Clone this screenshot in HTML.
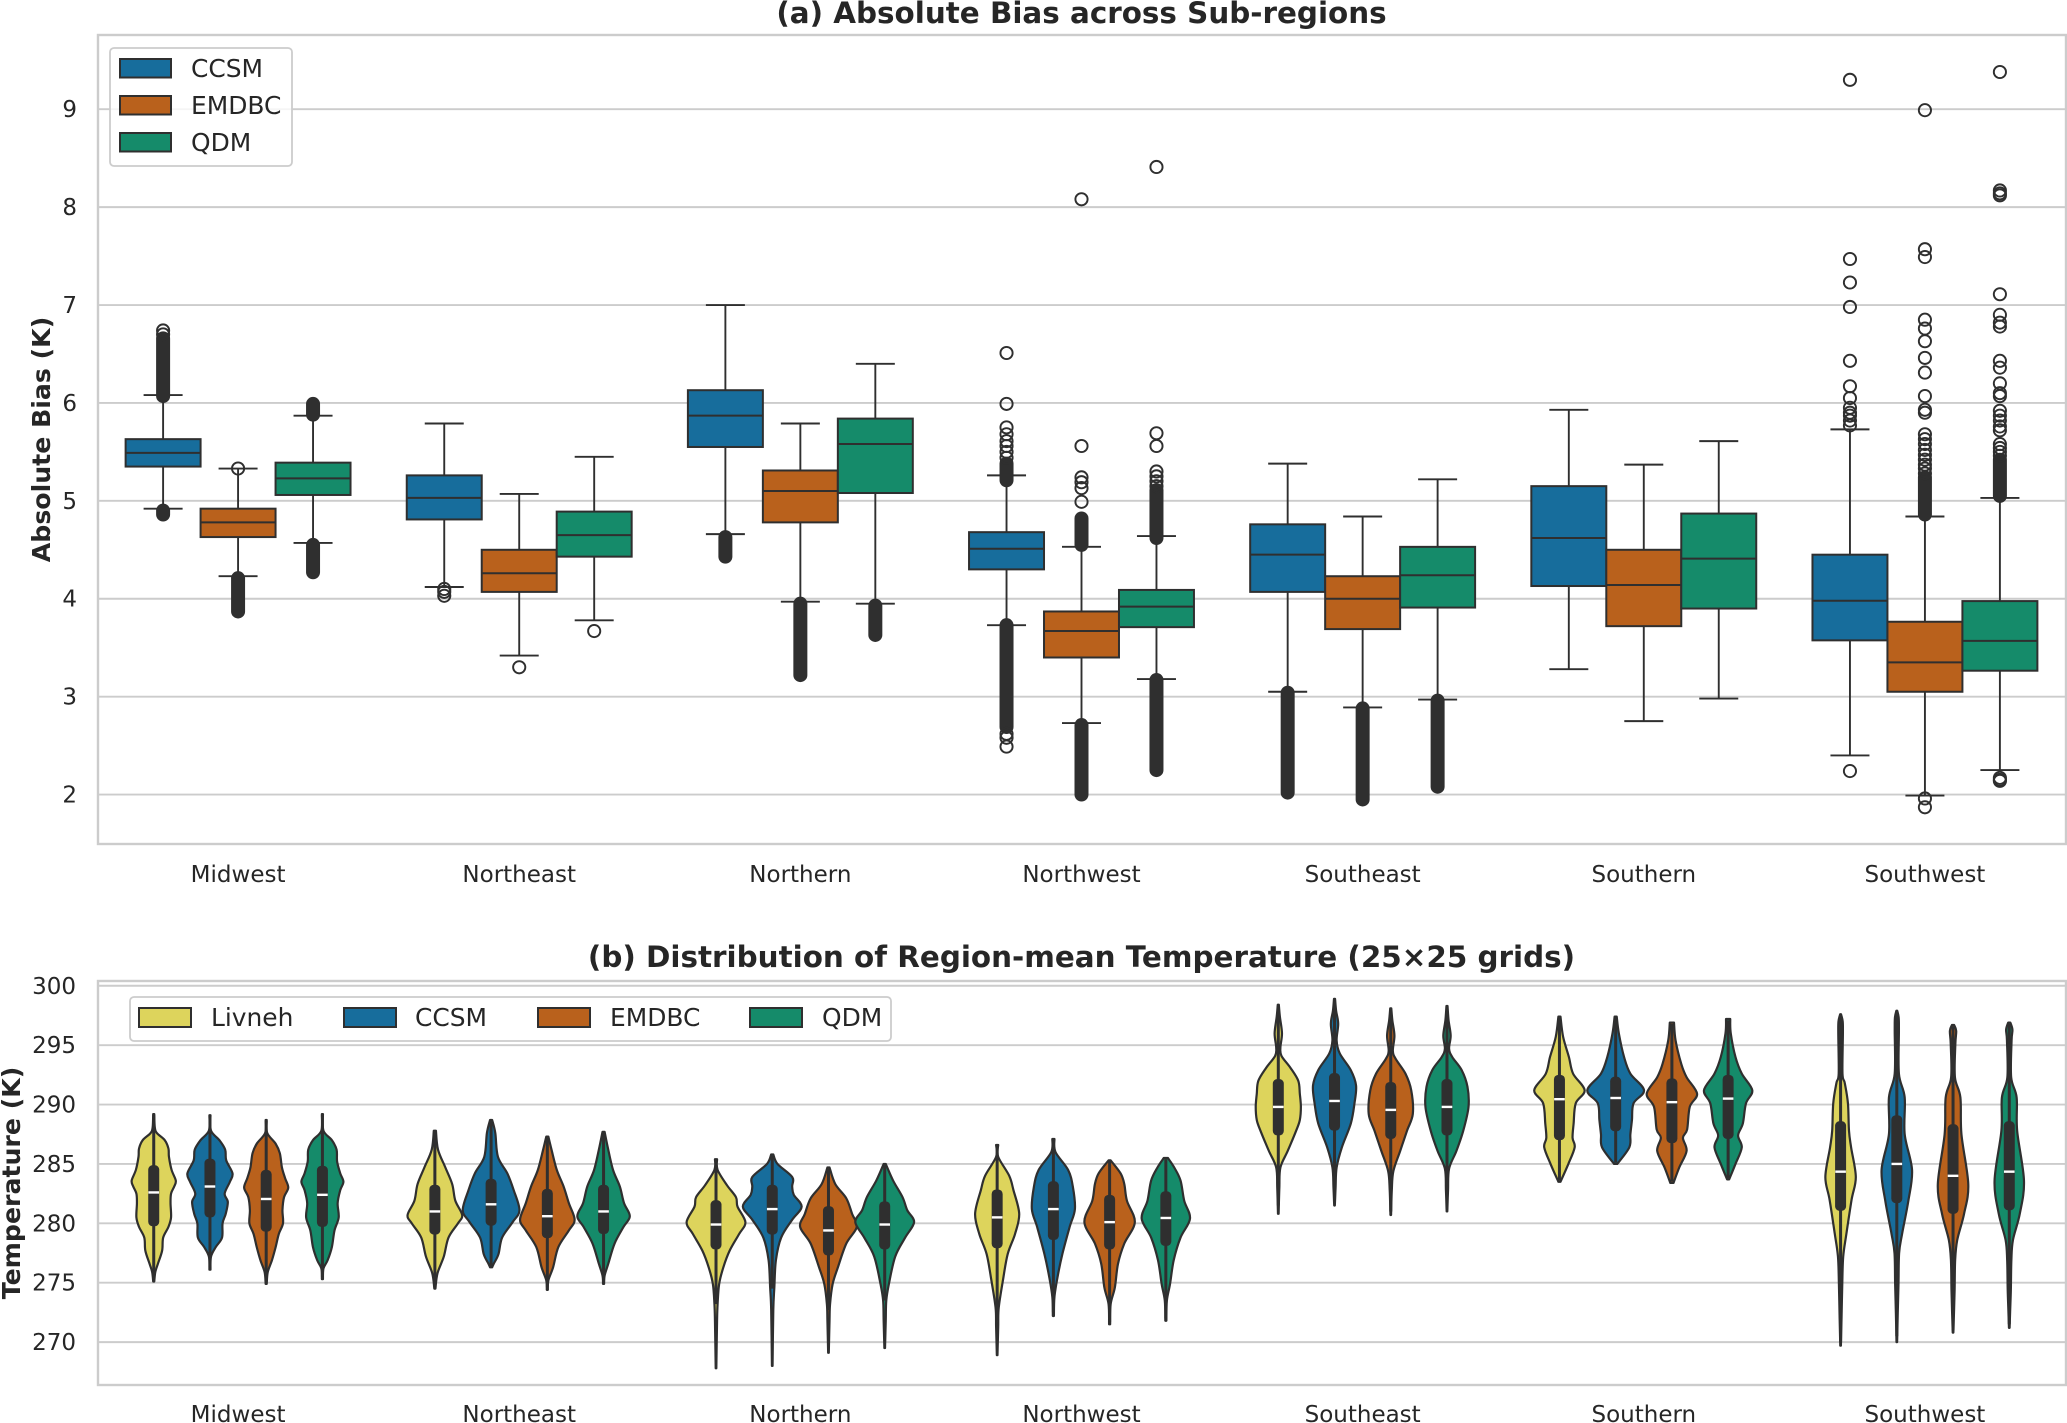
<!DOCTYPE html>
<html lang="en">
<head>
<meta charset="utf-8">
<title>Absolute Bias and Region-mean Temperature</title>
<style>
html,body{margin:0;padding:0;background:#fff;}
svg{display:block;font-family:"DejaVu Sans","Liberation Sans",sans-serif;}
</style>
</head>
<body>
<svg id="figure" xmlns="http://www.w3.org/2000/svg" width="2067" height="1423" viewBox="0 0 2067 1423">
  <rect width="2067" height="1423" fill="#fff"/>
  <g id="panel-a">
    <g id="a-grid"></g>
    <g id="a-marks"></g>
    <rect x="98" y="35" width="1968" height="809" fill="none" stroke="#cccccc" stroke-width="2.4"/>
    <g id="a-ticks"></g>
    <text x="1081.5" y="23" text-anchor="middle" font-size="29.4" font-weight="700" fill="#262626">(a) Absolute Bias across Sub-regions</text>
    <text transform="translate(50,439.5) rotate(-90)" text-anchor="middle" font-size="25.2" font-weight="700" fill="#262626">Absolute Bias (K)</text>
    <g>
      <rect x="110" y="48" width="182" height="118" rx="4" fill="#fff" fill-opacity="0.8" stroke="#cccccc" stroke-width="1.8"/>
      <g><rect x="120" y="59" width="51" height="18.5" fill="#176d9c" stroke="#2f2f2f" stroke-width="2"/><text x="191" y="77" font-size="24.9" fill="#262626">CCSM</text></g>
      <g><rect x="120" y="96" width="51" height="18.5" fill="#b9611c" stroke="#2f2f2f" stroke-width="2"/><text x="191" y="114" font-size="24.9" fill="#262626">EMDBC</text></g>
      <g><rect x="120" y="133" width="51" height="18.5" fill="#158b6a" stroke="#2f2f2f" stroke-width="2"/><text x="191" y="151" font-size="24.9" fill="#262626">QDM</text></g>
    </g>
  </g>
  <g id="panel-b">
    <g id="b-grid"></g>
    <g id="b-marks"></g>
    <rect x="98" y="981" width="1968" height="404" fill="none" stroke="#cccccc" stroke-width="2.4"/>
    <g id="b-ticks"></g>
    <text x="1081.5" y="967" text-anchor="middle" font-size="29.4" font-weight="700" fill="#262626">(b) Distribution of Region-mean Temperature (25×25 grids)</text>
    <text transform="translate(20,1183) rotate(-90)" text-anchor="middle" font-size="25.2" font-weight="700" fill="#262626">Temperature (K)</text>
    <g>
      <rect x="130" y="997" width="761" height="44" rx="4" fill="#fff" fill-opacity="0.8" stroke="#cccccc" stroke-width="1.8"/>
      <g><rect x="139" y="1008" width="52" height="19" fill="#ddd45c" stroke="#2f2f2f" stroke-width="2"/><text x="211" y="1026" font-size="24.9" fill="#262626">Livneh</text></g>
      <g><rect x="344" y="1008" width="52" height="19" fill="#176d9c" stroke="#2f2f2f" stroke-width="2"/><text x="415" y="1026" font-size="24.9" fill="#262626">CCSM</text></g>
      <g><rect x="538" y="1008" width="52" height="19" fill="#b9611c" stroke="#2f2f2f" stroke-width="2"/><text x="610" y="1026" font-size="24.9" fill="#262626">EMDBC</text></g>
      <g><rect x="750" y="1008" width="52" height="19" fill="#158b6a" stroke="#2f2f2f" stroke-width="2"/><text x="822" y="1026" font-size="24.9" fill="#262626">QDM</text></g>
    </g>
  </g>
</svg>
<script>
const regions = ['Midwest','Northeast','Northern','Northwest','Southeast','Southern','Southwest'];
const biasTicks = [2,3,4,5,6,7,8,9];
const tempTicks = [270,275,280,285,290,295,300];

/* Panel (a): box statistics, K */
const ccsmWhiskerLow  = [4.92,4.12,4.66,3.73,3.05,3.28,2.40];
const ccsmQ1          = [5.35,4.81,5.55,4.30,4.07,4.13,3.575];
const ccsmMedian      = [5.49,5.03,5.87,4.51,4.45,4.62,3.98];
const ccsmQ3          = [5.63,5.26,6.13,4.68,4.76,5.15,4.45];
const ccsmWhiskerHigh = [6.08,5.79,7.00,5.26,5.38,5.93,5.73];
const emdbcWhiskerLow  = [4.23,3.42,3.97,2.73,2.89,2.75,1.99];
const emdbcQ1          = [4.63,4.07,4.78,3.40,3.69,3.72,3.05];
const emdbcMedian      = [4.78,4.26,5.10,3.67,4.00,4.14,3.35];
const emdbcQ3          = [4.92,4.50,5.31,3.87,4.23,4.50,3.765];
const emdbcWhiskerHigh = [5.33,5.07,5.79,4.53,4.84,5.37,4.84];
const qdmWhiskerLow  = [4.57,3.78,3.95,3.18,2.97,2.98,2.25];
const qdmQ1          = [5.06,4.43,5.08,3.71,3.91,3.90,3.265];
const qdmMedian      = [5.23,4.65,5.58,3.92,4.24,4.41,3.57];
const qdmQ3          = [5.39,4.89,5.84,4.09,4.53,4.87,3.976];
const qdmWhiskerHigh = [5.87,5.45,6.40,4.64,5.22,5.61,5.03];

/* Individually visible outliers */
const ccsmOutliers = [
  [6.74,6.70],
  [4.03,4.07,4.10],
  [],
  [6.51,5.99,5.75,5.68,5.61,5.56,5.50,5.44,2.62,2.58,2.49],
  [],
  [],
  [9.30,7.47,7.23,6.98,6.43,6.17,6.05,5.95,5.90,5.87,5.82,5.77,2.24]
];
const emdbcOutliers = [
  [5.33],
  [3.30],
  [],
  [8.08,5.56,5.24,5.19,5.13,4.99],
  [],
  [],
  [8.99,7.57,7.49,6.85,6.76,6.63,6.46,6.31,6.07,5.93,5.90,5.68,5.63,5.58,5.52,5.47,5.42,5.37,5.33,5.28,1.96,1.87]
];
const qdmOutliers = [
  [],
  [3.67],
  [],
  [8.41,5.69,5.56,5.30,5.25,5.20,5.15],
  [],
  [],
  [9.38,8.17,8.14,8.12,7.11,6.90,6.82,6.78,6.43,6.36,6.20,6.10,6.07,5.92,5.87,5.82,5.76,5.72,5.58,5.54,5.50,5.46,2.17,2.15,2.14]
];
/* Outlier runs too dense to separate: [low, high] */
const ccsmDenseRuns = [
  [[6.07,6.66],[4.86,4.90]],
  [],
  [[4.43,4.63]],
  [[5.21,5.38],[2.69,3.73]],
  [[2.02,3.04]],
  [],
  []
];
const emdbcDenseRuns = [
  [[3.87,4.21]],
  [],
  [[3.22,3.95]],
  [[4.55,4.82],[2.00,2.71]],
  [[1.95,2.88]],
  [],
  [[4.86,5.24]]
];
const qdmDenseRuns = [
  [[5.88,5.99],[4.27,4.55]],
  [],
  [[3.63,3.93]],
  [[4.62,5.11],[2.25,3.17]],
  [[2.08,2.96]],
  [],
  [[5.05,5.42]]
];

/* Panel (b): violin summaries, K */
const livnehVMedian = [282.6,281.0,279.9,280.5,289.8,290.45,284.35];
const livnehVQ1     = [279.75,279.05,277.8,277.9,287.4,287.0,281.05];
const livnehVQ3     = [284.9,283.25,281.95,282.85,292.15,292.5,288.6];
const livnehVLow    = [275.3,274.7,273.2,272.0,281.5,283.6,270.0];
const livnehVHigh   = [289.1,287.7,285.3,286.5,298.3,297.3,297.5];
const ccsmVMedian = [283.1,281.6,281.2,281.2,290.3,290.55,285.0];
const ccsmVQ1     = [280.5,279.8,279.05,278.6,287.8,287.75,281.7];
const ccsmVQ3     = [285.45,283.75,283.25,283.55,292.65,292.35,289.1];
const ccsmVLow    = [276.3,276.4,274.5,272.5,282.0,285.1,270.5];
const ccsmVHigh   = [289.0,288.6,285.7,287.0,298.8,297.3,297.8];
const emdbcVMedian = [282.05,280.6,279.4,280.1,289.55,290.2,284.0];
const emdbcVQ1     = [279.3,278.75,277.3,277.8,287.1,286.75,280.8];
const emdbcVQ3     = [284.5,282.9,281.45,282.4,291.9,292.2,288.35];
const emdbcVLow    = [275.1,274.6,272.7,271.7,281.0,283.5,271.0];
const emdbcVHigh   = [288.6,287.2,284.6,285.2,298.0,296.8,296.6];
const qdmVMedian = [282.4,281.0,279.9,280.45,289.8,290.5,284.35];
const qdmVQ1     = [279.7,279.1,277.8,278.1,287.4,287.1,281.1];
const qdmVQ3     = [284.85,283.25,281.85,282.7,292.15,292.5,288.6];
const qdmVLow    = [275.5,275.1,273.5,272.0,281.2,283.8,271.5];
const qdmVHigh   = [289.1,287.6,284.9,285.4,298.2,297.1,296.8];

/* Violin density profiles: [temperature K, relative density] from warm end to cold end */
const livnehProfiles = [
  [[289.2,.5],[288.1,1],[287.6,3],[287,10.5],[286.3,14],[285.6,14.5],[284.5,17],[283.6,21],[283.1,19.5],[282.5,16.5],[281.7,16],[280.5,16.5],[279.7,14],[278.8,9],[277.7,8],[276.6,4],[275.9,1.5],[275.1,.5]],
  [[287.8,1],[286.2,3],[284.7,10],[283.3,16.5],[281.9,19.5],[280.7,26],[280,22],[278.8,13],[277.2,8.5],[275.8,2.5],[274.5,.5]],
  [[285.4,1],[284.5,1.5],[283.2,10.5],[282.2,19],[281.4,20.5],[280.1,28],[279.1,22],[277.7,13],[276.3,7],[274.9,3],[273.2,1.5],[271.8,1],[267.8,.3]],
  [[286.6,1],[285.6,1],[284,11.5],[282.8,15.5],[280.8,21],[279.1,17],[277.4,10],[275.2,5.5],[272.9,1.5],[271.3,1],[268.9,.3]],
  [[298.4,.5],[297.4,1.5],[296,3.5],[294.8,2],[294.1,3],[293.1,11.5],[292,19],[290.9,20.5],[289.8,21.5],[288.7,20.5],[287.8,17],[286.1,9],[284.7,2],[283,1],[280.8,.3]],
  [[297.4,1],[295.7,3.5],[294,9],[292.6,13],[291.2,24],[290.1,15.5],[288.4,13.5],[287.2,12.5],[286.4,14.5],[285,8.5],[283.5,1]],
  [[297.6,.4],[297,2],[296,2.2],[292.6,1.8],[291.8,4],[290.1,7],[287.8,8],[286.4,10],[283.9,14.5],[282,10.5],[279.1,5.5],[277.2,2.5],[274.9,1.6],[272,.9],[269.7,.3]]
];
const ccsmProfiles = [
  [[289.1,.5],[287.8,1],[287,9],[286.2,14.5],[285.3,15.5],[284.2,21.5],[283.5,19],[282.5,14],[281.8,17],[280.8,15],[280,12],[278.8,11.5],[278,5.5],[277.2,1],[276.1,.5]],
  [[288.7,1],[287.6,4],[285.6,6.5],[284.2,15.5],[282.8,21.5],[281.1,27],[280.1,20.5],[278.8,10.5],[277.4,7],[276.6,2.5],[276.3,1]],
  [[285.8,1],[285,5],[283.9,19],[283.1,19],[282.4,20.5],[281.4,28],[280.3,19],[278.8,8.5],[276.9,3.5],[274.6,2],[272.7,1],[268,.3]],
  [[287.1,1],[286,2],[284.5,14],[283.1,18.5],[281.2,20.5],[279.7,15.5],[277.4,8.5],[275.5,4],[273.8,1],[272.2,.5]],
  [[298.9,.5],[297.9,1.5],[296.8,3.5],[295.4,2],[294.3,5],[292.9,15.5],[291.6,20.5],[290.1,19],[288.4,15.5],[286.4,7],[284.7,2],[283,1],[281.5,.3]],
  [[297.4,1],[296,3],[294,8],[292.6,14],[291.2,27],[290.1,17],[288.7,15.5],[287.5,14],[286.4,13],[285,1.5]],
  [[297.9,.4],[297.3,1.8],[296.2,2],[292.6,2],[290.6,7.5],[287.5,7.5],[284.5,14.5],[281.9,11],[279.1,5],[277.5,2.2],[274.9,1.6],[272.5,.9],[270,.3]]
];
const emdbcProfiles = [
  [[288.7,.5],[287.6,1],[286.7,9],[285.9,13],[284.7,15],[283.8,18],[283,21],[282.2,17],[281.1,15.5],[280,16],[279.1,12],[278,9],[276.9,5.5],[275.9,1.5],[274.9,.5]],
  [[287.3,1],[286.2,4],[284.5,9],[283.1,15.5],[281.7,20.5],[280.3,26],[279.4,20.5],[278,10.5],[276.3,5.5],[275.2,1],[274.4,.5]],
  [[284.7,1],[283.3,6.5],[282.1,17],[280.8,22.5],[279.7,27],[278.3,17],[276.3,9],[274.9,4],[273.2,1.5],[271.8,1],[269.1,.3]],
  [[285.3,1],[284.2,10.5],[283.3,14],[281.9,16.5],[280.1,24],[278.3,14],[276.6,8],[274.6,5],[273.2,1],[271.5,.5]],
  [[298.1,.5],[297.1,1.5],[295.8,3.5],[294.5,2],[293.8,5],[292.6,14],[291.2,19.5],[289.2,21],[287.8,15.5],[286.1,9],[284.4,2.5],[282.8,1],[280.7,.3]],
  [[296.9,2],[295.4,3.5],[293.4,9],[292.3,14],[290.9,24],[289.8,17],[287.9,14.5],[287.2,10.5],[286.1,14],[284.7,7],[283.4,1.5]],
  [[296.7,1],[296.2,3],[295.1,2.2],[292.3,1.8],[290.6,7],[287.5,8],[283.3,14.5],[280.8,10.5],[278.6,4],[276.9,2],[274.4,1.5],[272.5,.9],[270.8,.3]]
];
const qdmProfiles = [
  [[289.2,.5],[287.8,1],[287,9],[286.2,13.5],[285.2,14],[284.2,17],[283.5,20],[282.8,17],[281.7,14.5],[280.5,15.5],[279.4,11.5],[278,9],[276.9,5],[276.2,1],[275.3,.5]],
  [[287.7,1],[286.4,4],[284.5,9],[283.1,15.5],[281.7,19.5],[280.6,25],[279.7,19],[278.3,10.5],[276.6,4.5],[275.6,1],[274.9,.5]],
  [[285,1],[283.6,8],[282.2,17],[281.1,21.5],[280.1,28],[278.8,19.5],[277.2,10],[274.9,4],[273.5,1.5],[271.8,1],[269.5,.3]],
  [[285.5,2],[284.7,8],[283.6,14],[281.9,17.5],[280.4,23],[278.8,14],[276.9,7.5],[274.9,4],[273.5,1],[271.8,.5]],
  [[298.3,.5],[297.1,1.5],[295.8,3.5],[294.7,2],[294,5],[292.9,14],[291.5,19.5],[289.8,20.5],[287.8,15.5],[286.1,9],[284.6,2],[282.8,1],[281,.3]],
  [[297.2,2],[296,2.5],[294,7],[292.6,13],[291.2,23],[290.1,17],[288.4,14],[287.4,9.5],[286.4,13],[285,7],[283.7,1]],
  [[296.9,1],[296.3,3],[295.4,2.2],[292.3,1.8],[290.6,7],[287.8,7.5],[283.6,14],[280.8,10],[278.6,3.5],[276.9,2],[274.4,1.5],[272.8,.9],[271.2,.3]]
];

const SVG_NS = 'http://www.w3.org/2000/svg';
const INK = '#2f2f2f';
const COLOR_LIVNEH = '#ddd45c', COLOR_CCSM = '#176d9c', COLOR_EMDBC = '#b9611c', COLOR_QDM = '#158b6a';

function linear(d0, d1, r0, r1){ return v => r0 + (v - d0) * (r1 - r0) / (d1 - d0); }
const xScale = linear(-0.5, 6.5, 98, 2066);
const yBias = linear(1.495, 9.758, 844, 35);
const yTemp = linear(266.39, 300.4, 1385, 981);
const densityWidth = d => d * 1.05;
const BAND = xScale(1) - xScale(0);
const BOX_WIDTH = BAND * 0.8 / 3;
const VIOLIN_STEP = BAND * 0.8 / 4;

function make(parent, tag, attrs){
  const el = document.createElementNS(SVG_NS, tag);
  for (const k in attrs) el.setAttribute(k, attrs[k]);
  parent.appendChild(el);
  return el;
}
function slug(s){ return s.toLowerCase(); }

/* Axes */
function drawAxes(gridId, tickId, ticks, yScale, baselineY, x0, prefix){
  const grid = document.getElementById(gridId);
  const labels = document.getElementById(tickId);
  ticks.forEach(t => {
    const y = yScale(t);
    const line = make(grid, 'line', {x1:98, x2:2066, y1:y, y2:y, stroke:'#cccccc', 'stroke-width':1.9});
    
    
    const tx = make(labels, 'text', {x:x0, y:y + 8, 'text-anchor':'end', 'font-size':23, fill:'#262626'});
    tx.textContent = t;
    
    
  });
  regions.forEach((r, i) => {
    const tx = make(labels, 'text', {x:xScale(i) - 0.5, y:baselineY, 'text-anchor':'middle', 'font-size':23, fill:'#262626'});
    tx.textContent = r;
    
    
  });
}
drawAxes('a-grid', 'a-ticks', biasTicks, yBias, 882, 77, 'panel-a');
drawAxes('b-grid', 'b-ticks', tempTicks, yTemp, 1422, 76, 'panel-b');

/* Box plots */
const boxSeries = [
  {name:'ccsm', color:COLOR_CCSM, lo:ccsmWhiskerLow, q1:ccsmQ1, med:ccsmMedian, q3:ccsmQ3, hi:ccsmWhiskerHigh, out:ccsmOutliers, dense:ccsmDenseRuns},
  {name:'emdbc', color:COLOR_EMDBC, lo:emdbcWhiskerLow, q1:emdbcQ1, med:emdbcMedian, q3:emdbcQ3, hi:emdbcWhiskerHigh, out:emdbcOutliers, dense:emdbcDenseRuns},
  {name:'qdm', color:COLOR_QDM, lo:qdmWhiskerLow, q1:qdmQ1, med:qdmMedian, q3:qdmQ3, hi:qdmWhiskerHigh, out:qdmOutliers, dense:qdmDenseRuns}
];
const aMarks = document.getElementById('a-marks');
boxSeries.forEach((s, j) => {
  regions.forEach((r, i) => {
    const cx = xScale(i) + (j - 1) * BOX_WIDTH - 0.5;
    const g = make(aMarks, 'g', {});
    
    
    const capHalf = 19.5;
    const stroke = {stroke:INK, 'stroke-width':1.9};
    make(g, 'line', Object.assign({x1:cx, x2:cx, y1:yBias(s.hi[i]), y2:yBias(s.q3[i])}, stroke));
    make(g, 'line', Object.assign({x1:cx, x2:cx, y1:yBias(s.q1[i]), y2:yBias(s.lo[i])}, stroke));
    make(g, 'line', Object.assign({x1:cx - capHalf, x2:cx + capHalf, y1:yBias(s.hi[i]), y2:yBias(s.hi[i])}, stroke));
    make(g, 'line', Object.assign({x1:cx - capHalf, x2:cx + capHalf, y1:yBias(s.lo[i]), y2:yBias(s.lo[i])}, stroke));
    make(g, 'rect', {x:cx - BOX_WIDTH / 2, y:yBias(s.q3[i]), width:BOX_WIDTH, height:yBias(s.q1[i]) - yBias(s.q3[i]), fill:s.color, stroke:INK, 'stroke-width':2});
    make(g, 'line', Object.assign({x1:cx - BOX_WIDTH / 2, x2:cx + BOX_WIDTH / 2, y1:yBias(s.med[i]), y2:yBias(s.med[i])}, {stroke:INK, 'stroke-width':2}));
    s.dense[i].forEach(run => {
      make(g, 'line', {x1:cx, x2:cx, y1:yBias(run[1]), y2:yBias(run[0]), stroke:INK, 'stroke-width':14, 'stroke-linecap':'round'});
    });
    s.out[i].forEach(v => {
      make(g, 'circle', {cx:cx, cy:yBias(v), r:6.1, fill:'none', stroke:INK, 'stroke-width':1.9});
    });
  });
});

/* Violins */
function smoothSide(pts){
  let d = '';
  for (let k = 0; k < pts.length - 1; k++){
    const p0 = pts[Math.max(k - 1, 0)], p1 = pts[k], p2 = pts[k + 1], p3 = pts[Math.min(k + 2, pts.length - 1)];
    const c1x = p1[0] + (p2[0] - p0[0]) / 6, c1y = p1[1] + (p2[1] - p0[1]) / 6;
    const c2x = p2[0] - (p3[0] - p1[0]) / 6, c2y = p2[1] - (p3[1] - p1[1]) / 6;
    d += ' C' + c1x.toFixed(2) + ' ' + c1y.toFixed(2) + ' ' + c2x.toFixed(2) + ' ' + c2y.toFixed(2) + ' ' + p2[0].toFixed(2) + ' ' + p2[1].toFixed(2);
  }
  return d;
}
const violinSeries = [
  {name:'livneh', color:COLOR_LIVNEH, prof:livnehProfiles, med:livnehVMedian, q1:livnehVQ1, q3:livnehVQ3, lo:livnehVLow, hi:livnehVHigh},
  {name:'ccsm', color:COLOR_CCSM, prof:ccsmProfiles, med:ccsmVMedian, q1:ccsmVQ1, q3:ccsmVQ3, lo:ccsmVLow, hi:ccsmVHigh},
  {name:'emdbc', color:COLOR_EMDBC, prof:emdbcProfiles, med:emdbcVMedian, q1:emdbcVQ1, q3:emdbcVQ3, lo:emdbcVLow, hi:emdbcVHigh},
  {name:'qdm', color:COLOR_QDM, prof:qdmProfiles, med:qdmVMedian, q1:qdmVQ1, q3:qdmVQ3, lo:qdmVLow, hi:qdmVHigh}
];
const bMarks = document.getElementById('b-marks');
violinSeries.forEach((s, j) => {
  regions.forEach((r, i) => {
    const cx = xScale(i) + (j - 1.5) * VIOLIN_STEP - 0.5;
    const g = make(bMarks, 'g', {});
    
    
    const right = s.prof[i].map(p => [cx + densityWidth(p[1]), yTemp(p[0])]);
    const left = s.prof[i].slice().reverse().map(p => [cx - densityWidth(p[1]), yTemp(p[0])]);
    const d = 'M' + right[0][0].toFixed(2) + ' ' + right[0][1].toFixed(2) + smoothSide(right) +
              ' L' + left[0][0].toFixed(2) + ' ' + left[0][1].toFixed(2) + smoothSide(left) + ' Z';
    make(g, 'path', {d:d, fill:s.color, stroke:INK, 'stroke-width':2.2, 'stroke-linejoin':'round'});
    make(g, 'line', {x1:cx, x2:cx, y1:yTemp(s.hi[i]), y2:yTemp(s.lo[i]), stroke:INK, 'stroke-width':3});
    const top = yTemp(s.q3[i]), bot = yTemp(s.q1[i]);
    make(g, 'rect', {x:cx - 5.5, y:top, width:11, height:bot - top, rx:4.5, ry:4.5, fill:INK});
    make(g, 'line', {x1:cx - 5.3, x2:cx + 5.3, y1:yTemp(s.med[i]), y2:yTemp(s.med[i]), stroke:'#ffffff', 'stroke-width':2.4});
  });
});
</script>
</body>
</html>
